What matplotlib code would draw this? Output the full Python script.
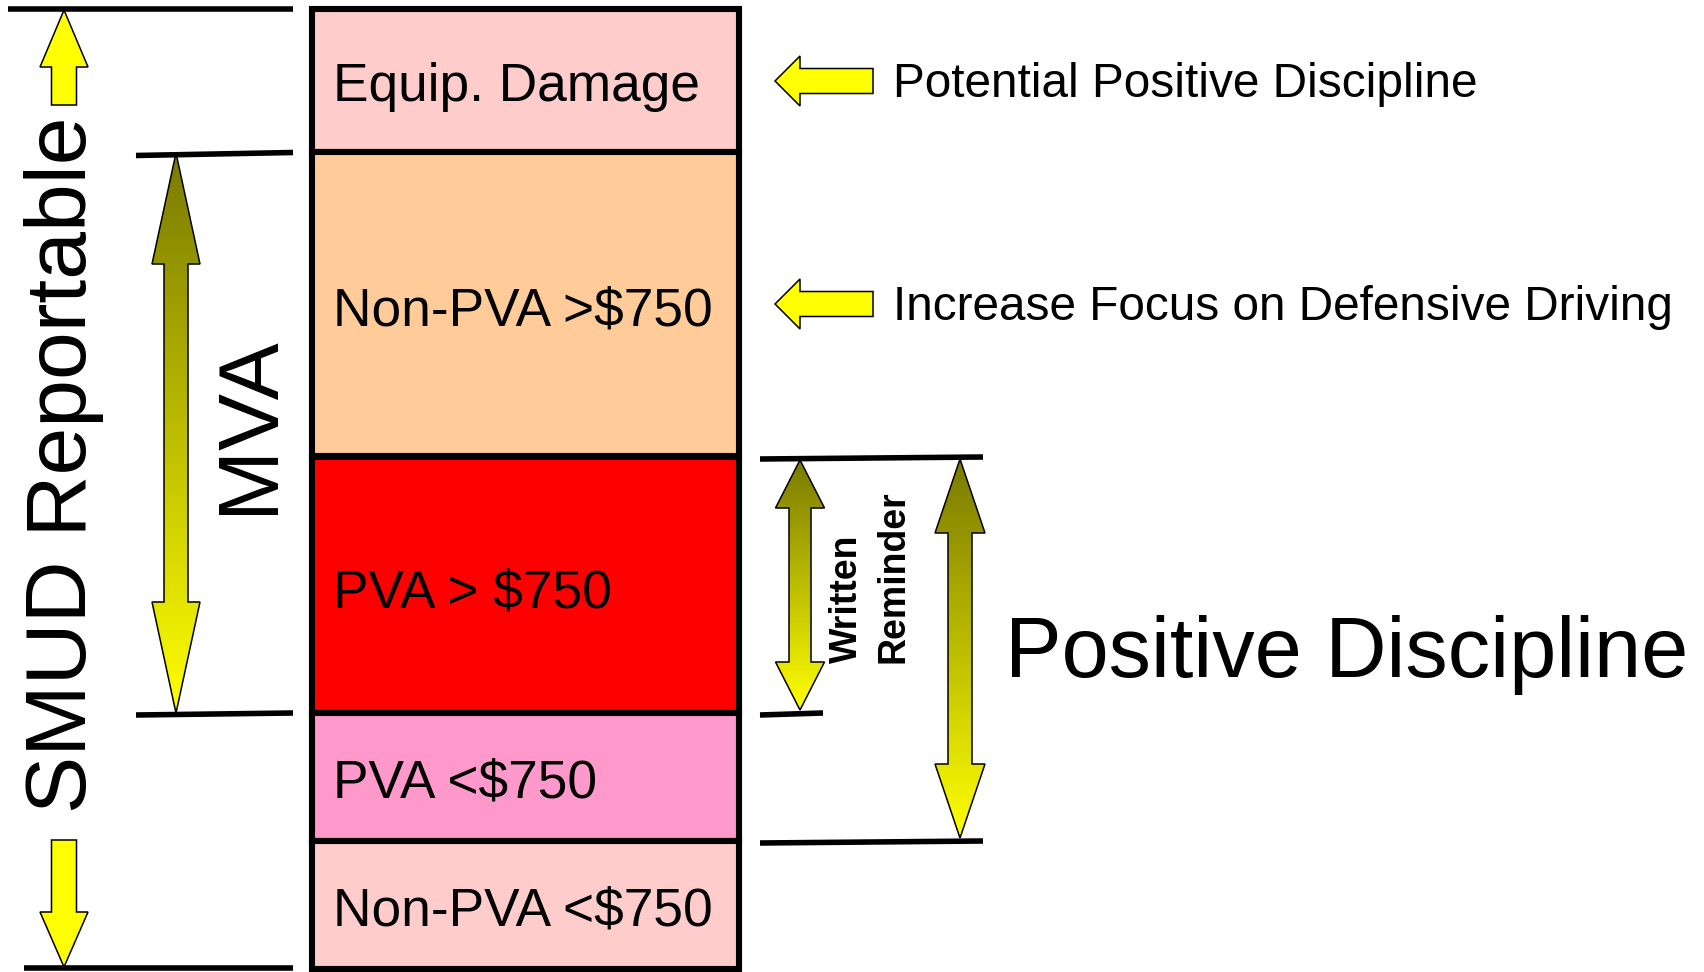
import numpy as np
import matplotlib
matplotlib.use("Agg")
import matplotlib.pyplot as plt
from matplotlib.patches import Rectangle, Polygon
from matplotlib.colors import LinearSegmentedColormap

plt.rcParams['font.family'] = ['Liberation Sans', 'DejaVu Sans']

# stacked categories, top to bottom
bands = ["Equip. Damage", "Non-PVA >$750", "PVA > $750", "PVA <$750", "Non-PVA <$750"]
band_edges = [9.5, 152.5, 456.5, 713, 841, 969]
band_colors = ["#FFCCCC", "#FFCC99", "#FF0000", "#FF99CC", "#FFCCCC"]
band_baselines = [101, 325, 607, 797, 925]

notes = ["Potential Positive Discipline", "Increase Focus on Defensive Driving"]
note_y = [81, 304]

W, H = 1704, 972
fig = plt.figure(figsize=(W / 100, H / 100), dpi=100)
ax = fig.add_axes([0, 0, 1, 1])
ax.set_xlim(0, W)
ax.set_ylim(H, 0)
ax.axis('off')

grad_cmap = LinearSegmentedColormap.from_list('olive_yellow', ['#7A7A00', '#FFFF00'])

# boxes
box_l, box_r = 312, 738.5
for i, lab in enumerate(bands):
    top, bot = band_edges[i], band_edges[i + 1]
    ax.add_patch(Rectangle((box_l, top), box_r - box_l, bot - top,
                           facecolor=band_colors[i], edgecolor='black', lw=4.4, zorder=2))
    ax.text(box_l + 21, band_baselines[i], lab, fontsize=38.3, va='baseline', ha='left', zorder=3)


def hline(x0, x1, y0, y1):
    ax.plot([x0, x1], [y0, y1], color='black', lw=4.0, solid_capstyle='butt', zorder=4)


def single_arrow(xc, tip, head_base, end, hw, sw):
    return [(xc, tip), (xc + hw, head_base), (xc + sw, head_base), (xc + sw, end),
            (xc - sw, end), (xc - sw, head_base), (xc - hw, head_base)]


def double_arrow(xc, top, top_base, bot_base, bot, hw, sw):
    return [(xc, top), (xc + hw, top_base), (xc + sw, top_base), (xc + sw, bot_base),
            (xc + hw, bot_base), (xc, bot), (xc - hw, bot_base), (xc - sw, bot_base),
            (xc - sw, top_base), (xc - hw, top_base)]


def left_arrow(tip_x, yc, head_x, end_x, hw, sw):
    return [(tip_x, yc), (head_x, yc - hw), (head_x, yc - sw), (end_x, yc - sw),
            (end_x, yc + sw), (head_x, yc + sw), (head_x, yc + hw)]


def solid(verts):
    ax.add_patch(Polygon(verts, closed=True, facecolor='#FFFF00', edgecolor='black',
                         lw=1.1, joinstyle='miter', zorder=5))


def gradient(verts):
    xs = [v[0] for v in verts]
    ys = [v[1] for v in verts]
    poly = Polygon(verts, closed=True, facecolor='none', edgecolor='black',
                   lw=1.1, joinstyle='miter', zorder=6)
    ax.add_patch(poly)
    g = np.linspace(0, 1, 256).reshape(-1, 1)
    im = ax.imshow(g, cmap=grad_cmap, aspect='auto', origin='upper',
                   extent=(min(xs), max(xs), max(ys), min(ys)), zorder=5,
                   interpolation='bilinear')
    im.set_clip_path(poly)


# left side: SMUD reportable
hline(8, 293, 9, 9)
hline(24, 293, 968, 968)
solid(single_arrow(64, 10, 67, 105, 24, 12.5))
solid(single_arrow(64, 967, 912, 840, 24, 12.5))
ax.text(86, 813, "SMUD Reportable", fontsize=61.8, rotation=90, rotation_mode='anchor',
        ha='left', va='baseline', zorder=3)

# MVA
hline(136, 293, 155.5, 152.5)
hline(136, 293, 715, 713)
gradient(double_arrow(176, 153, 264, 602, 713, 24, 12))
ax.text(272, 514, "MVA", fontsize=61.5, rotation=90, rotation_mode='anchor',
        ha='left', va='baseline', zorder=3)

# right side notes
for lab, y in zip(notes, note_y):
    solid(left_arrow(775, y, 800, 873, 25, 12.5))
    ax.text(893, y + 16, lab, fontsize=34.4, ha='left', va='baseline', zorder=3)

# written reminder / positive discipline
hline(760, 983, 459, 457)
hline(760, 823, 715, 713)
hline(760, 983, 843, 841)
gradient(double_arrow(800, 460, 508, 662, 710, 24.5, 11))
gradient(double_arrow(960, 459, 533, 764, 838, 25, 12))
ax.text(857, 663, "Written", fontsize=27, fontweight='bold', rotation=90,
        rotation_mode='anchor', ha='left', va='baseline', zorder=3)
ax.text(903, 663, "Reminder", fontsize=27, fontweight='bold', rotation=90,
        rotation_mode='anchor', ha='left', va='baseline', zorder=3)
ax.text(1005, 677, "Positive Discipline", fontsize=61, ha='left', va='baseline', zorder=3)

ax.set_xlim(0, W)
ax.set_ylim(H, 0)
fig.savefig("out.png", dpi=100)
